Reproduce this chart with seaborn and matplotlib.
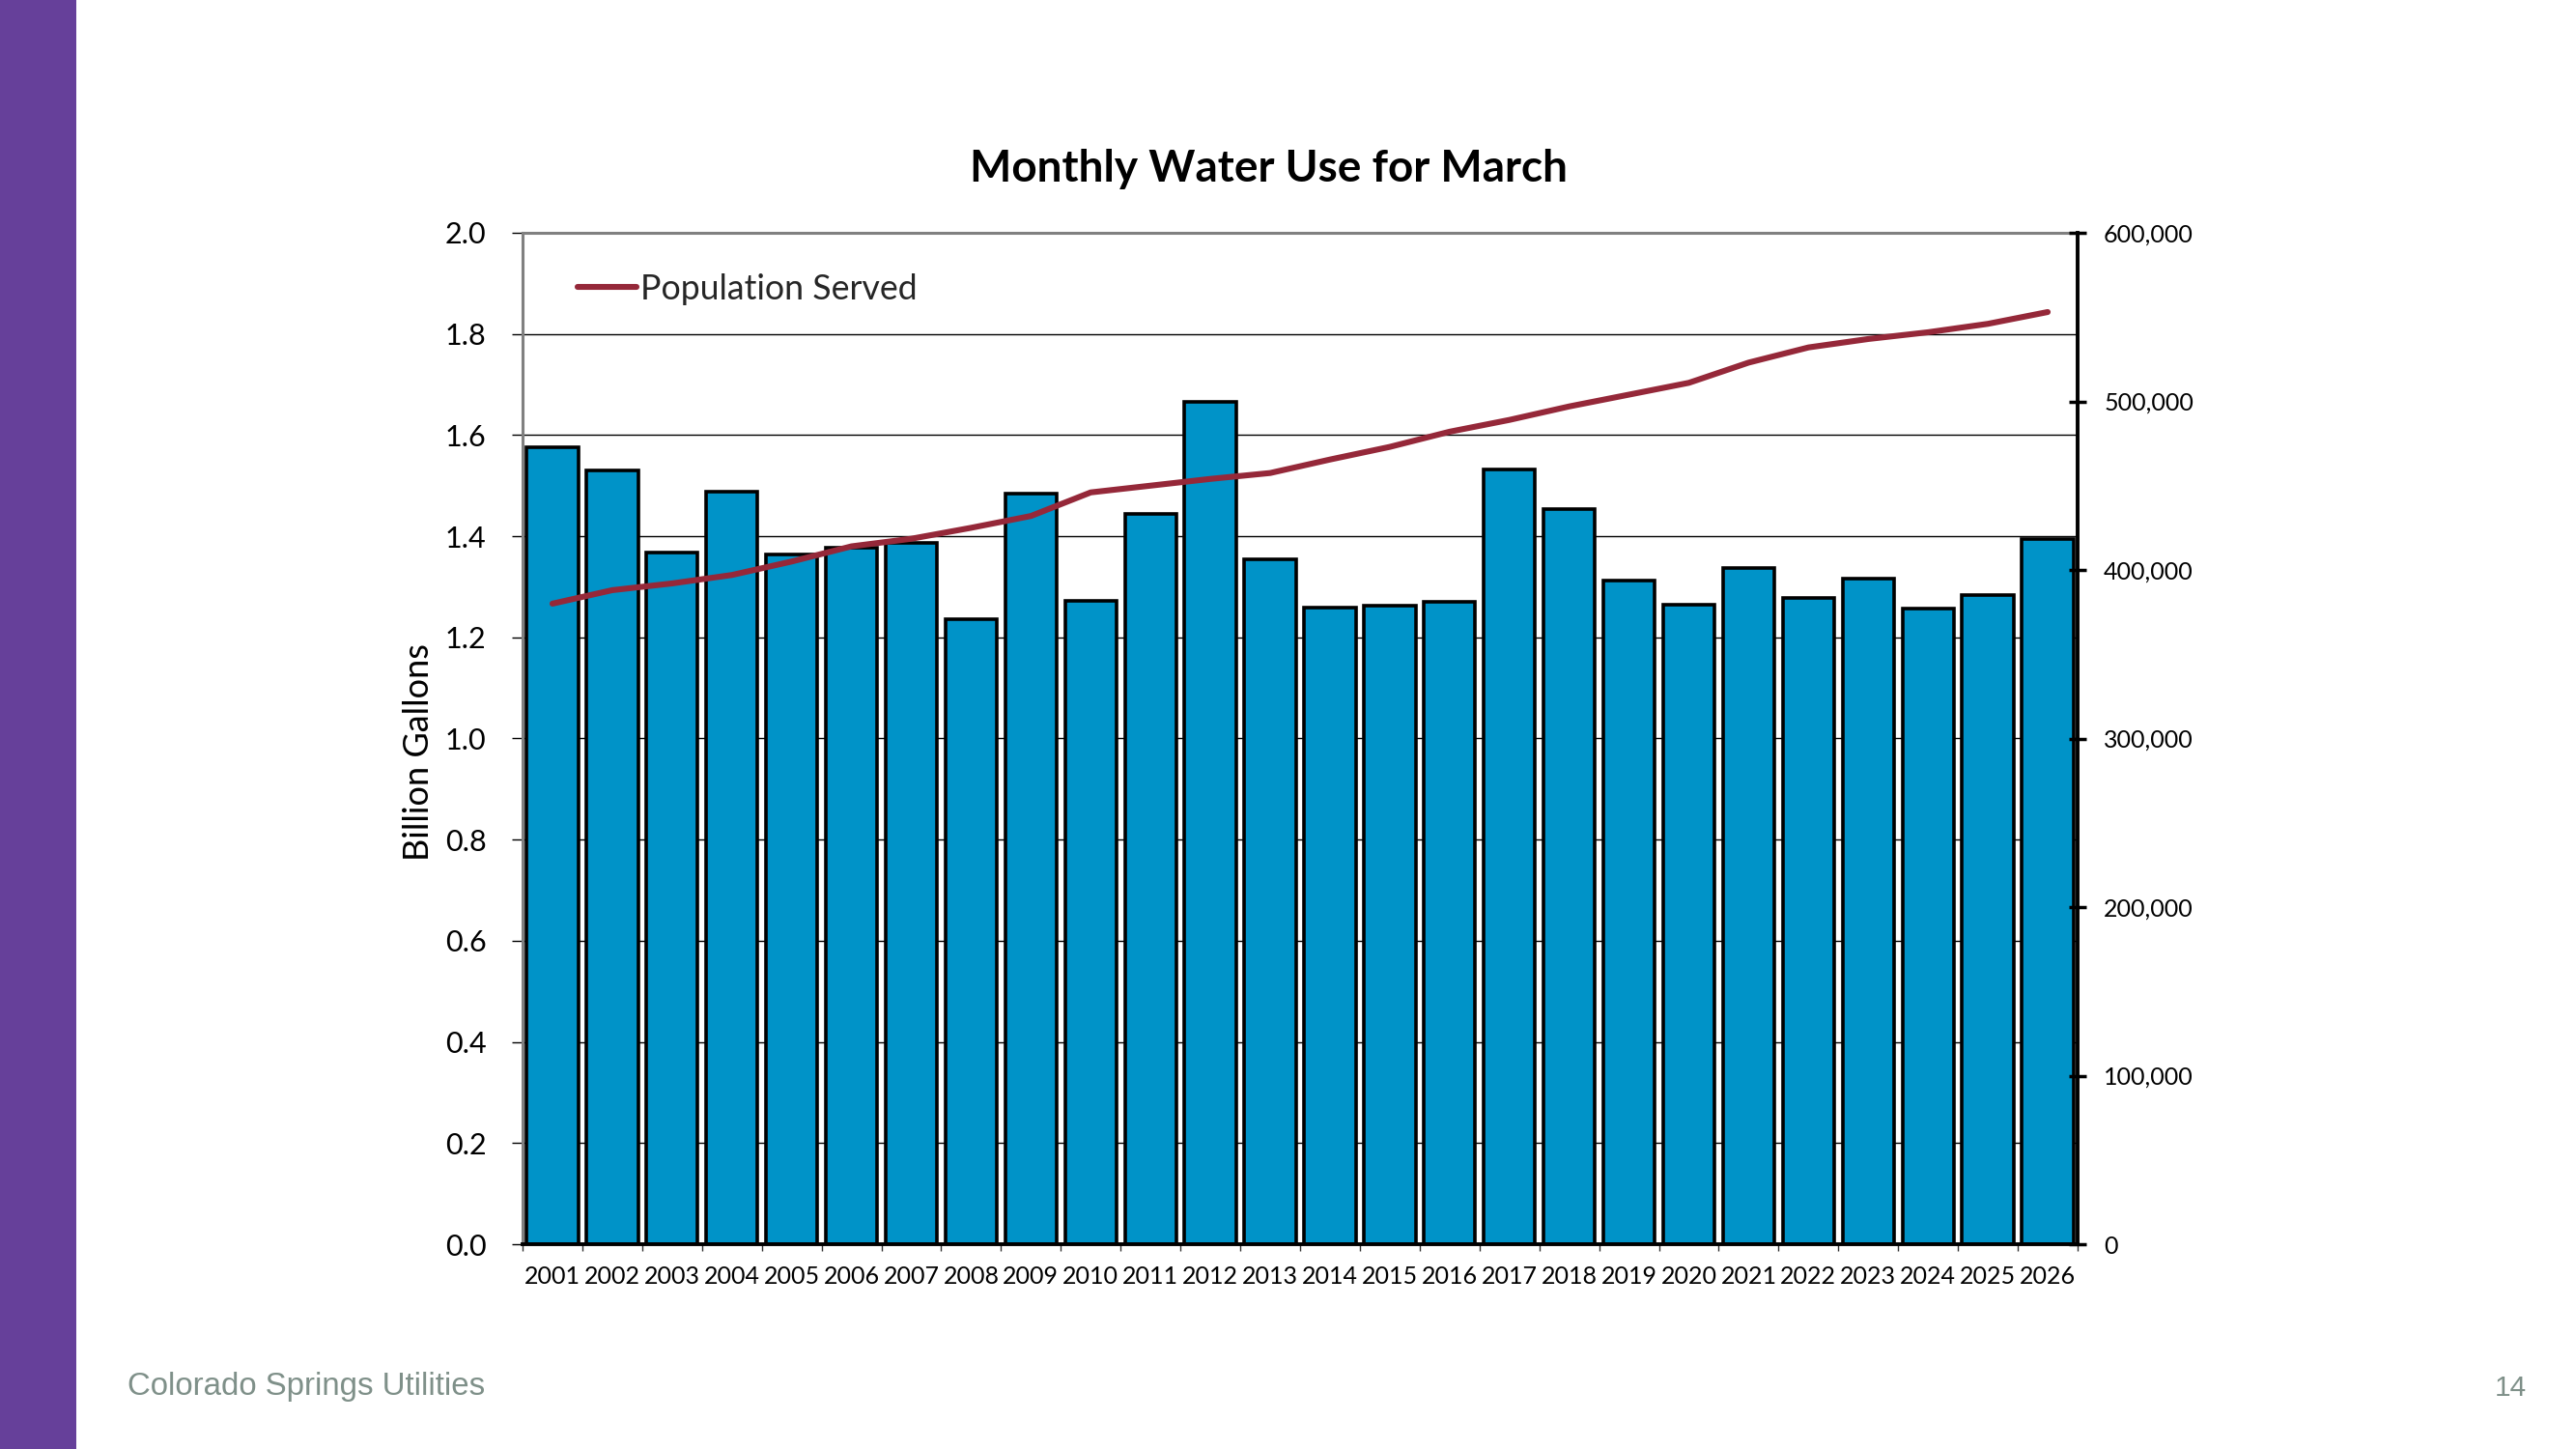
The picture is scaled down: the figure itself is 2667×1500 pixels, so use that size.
import numpy as np
import pandas as pd
import matplotlib
matplotlib.use("Agg")
import matplotlib.pyplot as plt
from matplotlib.patches import Rectangle
from matplotlib.ticker import FuncFormatter, MultipleLocator
import seaborn as sns

# ---------------- data ----------------
years = [str(y) for y in range(2001, 2027)]
water_use = [1.576, 1.531, 1.368, 1.489, 1.363, 1.378, 1.387, 1.235, 1.485, 1.273,
             1.445, 1.665, 1.354, 1.258, 1.262, 1.271, 1.532, 1.454, 1.313, 1.265,
             1.337, 1.277, 1.317, 1.256, 1.284, 1.395]
population = [380000, 388000, 392000, 397000, 405000, 414000, 418500, 425000, 432000, 446000,
              450000, 454000, 457500, 465500, 473000, 482000, 489000, 497000, 504000, 511000,
              523000, 532000, 537000, 541000, 546000, 553000]
title = "Monthly Water Use for March"
ylabel = "Billion Gallons"
legend_label = "Population Served"
footer_left = "Colorado Springs Utilities"
footer_right = "14"

BAR_COLOR = "#0093C8"
LINE_COLOR = "#952839"
PURPLE = "#66409A"
FOOT_COLOR = "#7F9089"

sns.set_style("white")
plt.rcParams["font.family"] = ["Lato", "DejaVu Sans"]

W, H = 2667, 1500
fig = plt.figure(figsize=(W / 100, H / 100), dpi=100)
fig.patch.set_facecolor("white")

L, R, T, B = 541, 2151, 241, 1288
ax = fig.add_axes([L / W, 1 - B / H, (R - L) / W, (B - T) / H])

df = pd.DataFrame({"year": years, "water": water_use, "pop": population})

sns.barplot(data=df, x="year", y="water", color=BAR_COLOR, saturation=1,
            edgecolor="black", linewidth=2.6, width=0.86, ax=ax)
ax.set_axisbelow(True)
ax.set_xlim(-0.5, len(years) - 0.5)
ax.set_ylim(0, 2.0)
ax.yaxis.set_major_locator(MultipleLocator(0.2))
ax.yaxis.set_major_formatter(FuncFormatter(lambda v, _: f"{v:.1f}"))
ax.yaxis.grid(True, color="black", linewidth=1.0)
ax.xaxis.grid(False)
ax.set_xlabel("")
ax.set_ylabel("")

for s in ["top", "left"]:
    ax.spines[s].set_color("#808080")
    ax.spines[s].set_linewidth(2.2)
ax.spines["right"].set_visible(False)
ax.spines["bottom"].set_color("black")
ax.spines["bottom"].set_linewidth(2.8)

ax.tick_params(axis="y", which="major", direction="out", length=8, width=1,
               color="black", pad=19, labelsize=22, labelcolor="black", left=True)
ax.set_xticks(np.arange(-0.5, len(years), 1), minor=True)
ax.tick_params(axis="x", which="minor", direction="out", length=5, width=1,
               color="#333333", bottom=True)
ax.tick_params(axis="x", which="major", length=0, pad=16, labelsize=18,
               labelcolor="black")

# population line on secondary axis
ax2 = ax.twinx()
sns.lineplot(x=np.arange(len(years)), y=df["pop"], color=LINE_COLOR,
             linewidth=4.4, ax=ax2, label=legend_label)
for ln in ax2.lines:
    ln.set_solid_capstyle("round")
ax2.set_ylim(0, 600000)
ax2.yaxis.set_major_locator(MultipleLocator(100000))
ax2.yaxis.set_major_formatter(FuncFormatter(lambda v, _: f"{int(round(v)):,}"))
ax2.set_ylabel("")
for s in ["top", "left", "bottom"]:
    ax2.spines[s].set_visible(False)
ax2.spines["right"].set_color("black")
ax2.spines["right"].set_linewidth(2.8)
ax2.tick_params(axis="y", direction="inout", length=13, width=2.5, color="black",
                pad=13, labelsize=18, labelcolor="black", right=True)
ax2.legend(loc="center left", bbox_to_anchor=(598 / W, 1 - 299 / H),
           bbox_transform=fig.transFigure, frameon=False, fontsize=25.7,
           handlelength=1.7, handletextpad=0.12, borderpad=0, borderaxespad=0)

# texts
fig.text(1314 / W, 1 - 188 / H, title, ha="center", va="baseline",
         fontsize=33, fontweight="bold", color="black")
fig.text(434 / W, 1 - 779 / H, ylabel, ha="center", va="center", rotation=90,
         fontsize=26, color="black")
fig.text(132 / W, 1 - 1444 / H, footer_left, ha="left", va="baseline",
         fontsize=23.8, color=FOOT_COLOR, family=["Liberation Sans", "DejaVu Sans"])
fig.text(2616 / W, 1 - 1445 / H, footer_right, ha="right", va="baseline",
         fontsize=21.5, color=FOOT_COLOR, family=["Liberation Sans", "DejaVu Sans"])

fig.patches.append(Rectangle((0, 0), 79 / W, 1, transform=fig.transFigure,
                             facecolor=PURPLE, edgecolor="none", zorder=0))

fig.savefig("out.png", dpi=100, facecolor="white")
